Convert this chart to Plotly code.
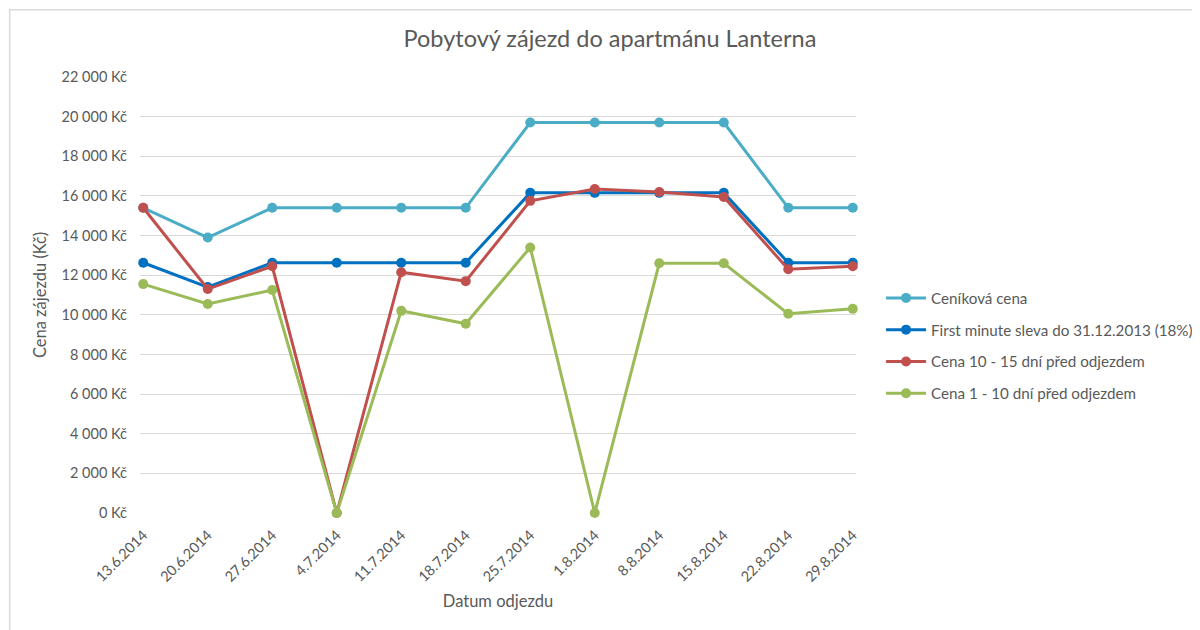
"""
Pobytový zájezd do apartmánu Lanterna - line chart (Plotly).
"""
import plotly.graph_objects as go

# departure dates (category axis)
dates = ["13.6.2014", "20.6.2014", "27.6.2014", "4.7.2014", "11.7.2014", "18.7.2014",
         "25.7.2014", "1.8.2014", "8.8.2014", "15.8.2014", "22.8.2014", "29.8.2014"]

# prices in Kč
cenikova = [15400, 13900, 15400, 15400, 15400, 15400, 19700, 19700, 19700, 19700, 15400, 15400]
first_minute = [12628, 11398, 12628, 12628, 12628, 12628, 16154, 16154, 16154, 16154, 12628, 12628]
cena_10_15 = [15400, 11300, 12450, 0, 12150, 11700, 15750, 16350, 16200, 15950, 12300, 12450]
cena_1_10 = [11550, 10550, 11250, 0, 10200, 9550, 13400, 0, 12600, 12600, 10050, 10300]

series = [
    ("Ceníková cena", cenikova, "#4BACC6"),
    ("First minute sleva do 31.12.2013 (18%)", first_minute, "#0070C0"),
    ("Cena 10 - 15 dní před odjezdem", cena_10_15, "#C0504D"),
    ("Cena 1 - 10 dní před odjezdem", cena_1_10, "#9BBB59"),
]

FONT = "Lato, Calibri, Carlito, sans-serif"
GREY = "#595959"

fig = go.Figure()
for i, (name, vals, col) in enumerate(series):
    fig.add_trace(go.Scatter(
        x=dates, y=vals, name=name, mode="lines+markers", legendgroup=f"g{i}",
        line=dict(color=col, width=3),
        marker=dict(color=col, size=10),
        cliponaxis=False,
    ))

# page body has an 8px margin, so the figure is laid out 8px up/left of the target
# (and made 8px larger so nothing on the right/bottom gets clipped)
fig.update_layout(
    width=1208, height=638,
    paper_bgcolor="white", plot_bgcolor="white",
    margin=dict(l=132, r=360, t=69, b=133, autoexpand=False),
    font=dict(family=FONT, color=GREY, size=13),
    separators=", ",
    title=dict(text="Pobytový zájezd do apartmánu Lanterna", x=0.4983, xanchor="center",
               y=0.9516, yanchor="middle", font=dict(size=23.5, color=GREY)),
    legend=dict(x=1.035, xanchor="left", y=0.383, yanchor="middle",
                font=dict(size=15.2, color=GREY), tracegroupgap=9, itemwidth=40),
    showlegend=True,
)

fig.update_xaxes(
    type="category", range=[-0.05, 11.05], tickangle=-45, showgrid=False,
    showline=False, ticks="", tickfont=dict(size=14.5, color=GREY), automargin=False,
    ticklabelstandoff=10,
    title=dict(text="Datum odjezdu", font=dict(size=16.5, color=GREY), standoff=11),
)
fig.update_yaxes(
    range=[0, 22000], dtick=2000, tickformat=",d", ticksuffix=" Kč",
    showgrid=True, gridcolor="#D9D9D9", gridwidth=1, zeroline=False,
    showline=False, ticks="", tickfont=dict(size=14.5, color=GREY), automargin=False,
    ticklabelstandoff=12,
    title=dict(text="Cena zájezdu (Kč)", font=dict(size=16.5, color=GREY), standoff=10),
)

# light border of the chart area
fig.add_shape(type="rect", xref="paper", yref="paper",
              x0=-0.182, x1=1.49, y0=-0.3, y1=1.154,
              line=dict(color="#D9D9D9", width=1.5), fillcolor="rgba(0,0,0,0)", layer="below")

fig.write_html("out.html")
